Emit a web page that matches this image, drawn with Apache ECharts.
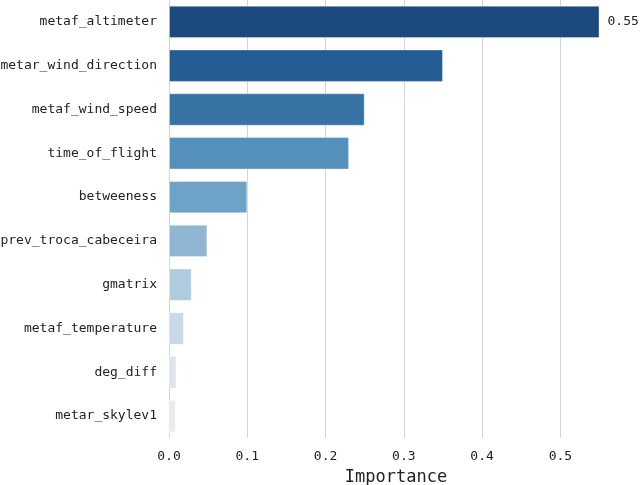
<!DOCTYPE html>
<html>
<head>
<meta charset="utf-8">
<script src="https://cdn.jsdelivr.net/npm/echarts@6/dist/echarts.min.js"></script>
<style>
  html, body { margin: 0; padding: 0; background: #fff; }
  #chart { width: 640px; height: 485px; }
</style>
</head>
<body>
<div id="chart"></div>
<script>
var features = ['metaf_altimeter', 'metar_wind_direction', 'metaf_wind_speed', 'time_of_flight',
  'betweeness', 'prev_troca_cabeceira', 'gmatrix', 'metaf_temperature', 'deg_diff', 'metar_skylev1'];
var importance = [0.55, 0.35, 0.25, 0.23, 0.10, 0.049, 0.029, 0.019, 0.0095, 0.0085];
var barColors = ['#1c4a7e', '#245c94', '#3873a6', '#5590bc', '#6ca3c7',
  '#8fb7d4', '#aecbe0', '#c8d9e9', '#dde3ea', '#e8ebef'];

var chart = echarts.init(document.getElementById('chart'));
var font = 'DejaVu Sans Mono';

chart.setOption({
  animation: false,
  grid: { left: 169, right: 17, top: 0, bottom: 47, containLabel: false, outerBoundsMode: 'none' },
  xAxis: {
    type: 'value',
    min: 0,
    max: 0.58,
    interval: 0.1,
    name: 'Importance',
    nameLocation: 'middle',
    nameGap: 31,
    nameTextStyle: { fontFamily: font, fontSize: 17, color: '#222' },
    axisLine: { show: false },
    axisTick: { show: false },
    axisLabel: {
      fontFamily: font, fontSize: 13, color: '#222', margin: 12,
      showMaxLabel: false,
      formatter: function (v) {
        var r = Math.round(v * 10) / 10;
        return Math.abs(r - v) < 1e-6 ? r.toFixed(1) : '';
      }
    },
    splitLine: {
      show: true,
      showMaxLine: false,
      lineStyle: { color: '#d4d4d4', width: 1 }
    }
  },
  yAxis: {
    type: 'category',
    inverse: true,
    data: features,
    axisLine: { show: false },
    axisTick: { show: false },
    axisLabel: { fontFamily: font, fontSize: 13, color: '#222', margin: 12 }
  },
  series: [{
    type: 'bar',
    barCategoryGap: '26%',
    data: importance.map(function (v, i) {
      return {
        value: v,
        itemStyle: { color: barColors[i], borderColor: 'rgba(255,255,255,0.35)', borderWidth: 1 },
        label: i === 0 ? {
          show: true, position: 'right', distance: 8,
          formatter: '0.55', fontFamily: font, fontSize: 13, color: '#222'
        } : { show: false }
      };
    })
  }]
});
</script>
</body>
</html>
